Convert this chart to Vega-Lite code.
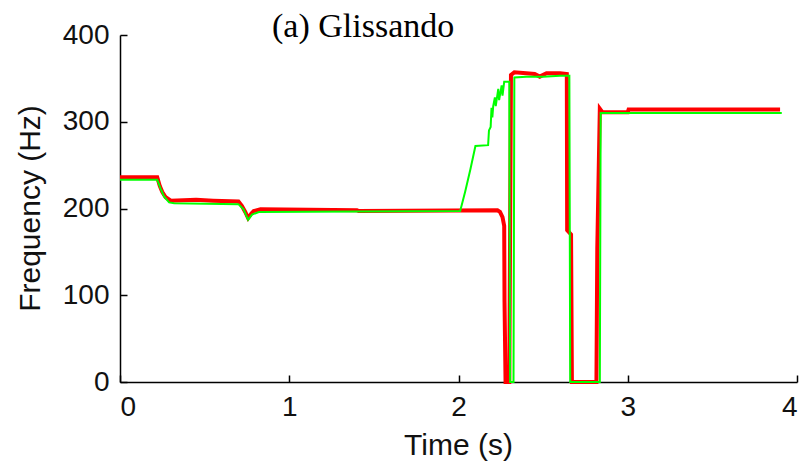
{
  "$schema": "https://vega.github.io/schema/vega-lite/v6.json",
  "width": 677,
  "height": 347,
  "autosize": {"type": "none"},
  "padding": {"left": 120, "top": 35, "right": 5, "bottom": 87},
  "background": "white",
  "title": {
    "text": "(a) Glissando",
    "font": "Liberation Serif",
    "fontSize": 34,
    "fontWeight": "normal",
    "color": "#000000",
    "anchor": "start",
    "frame": "group",
    "dx": 152,
    "dy": 21,
    "offset": -2
  },
  "datasets": {
    "red": [
      {"t": 0, "f": 236}, {"t": 0.22, "f": 236}, {"t": 0.235, "f": 226}, {"t": 0.25, "f": 219}, {"t": 0.27, "f": 213},
      {"t": 0.3, "f": 209}, {"t": 0.45, "f": 210}, {"t": 0.55, "f": 209}, {"t": 0.7, "f": 208}, {"t": 0.72, "f": 203},
      {"t": 0.74, "f": 196}, {"t": 0.757, "f": 189}, {"t": 0.775, "f": 194}, {"t": 0.79, "f": 197}, {"t": 0.83, "f": 199},
      {"t": 1.4, "f": 198}, {"t": 1.41, "f": 197}, {"t": 2.23, "f": 198}, {"t": 2.245, "f": 196}, {"t": 2.26, "f": 190},
      {"t": 2.27, "f": 180}, {"t": 2.272, "f": 92}, {"t": 2.278, "f": 0}, {"t": 2.3, "f": 0}, {"t": 2.31, "f": 354},
      {"t": 2.33, "f": 357}, {"t": 2.4, "f": 356}, {"t": 2.45, "f": 355}, {"t": 2.48, "f": 352}, {"t": 2.52, "f": 356},
      {"t": 2.6, "f": 356}, {"t": 2.64, "f": 355}, {"t": 2.642, "f": 175}, {"t": 2.665, "f": 170}, {"t": 2.67, "f": 0},
      {"t": 2.815, "f": 0}, {"t": 2.82, "f": 154}, {"t": 2.835, "f": 315}, {"t": 2.85, "f": 311}, {"t": 3.0, "f": 311},
      {"t": 3.005, "f": 314}, {"t": 3.9, "f": 314}
    ],
    "green": [
      {"t": 0, "f": 233}, {"t": 0.22, "f": 233}, {"t": 0.24, "f": 223}, {"t": 0.26, "f": 214}, {"t": 0.29, "f": 207},
      {"t": 0.32, "f": 206}, {"t": 0.7, "f": 205}, {"t": 0.73, "f": 199}, {"t": 0.757, "f": 187}, {"t": 0.78, "f": 193},
      {"t": 0.82, "f": 196}, {"t": 2.01, "f": 197}, {"t": 2.04, "f": 220}, {"t": 2.07, "f": 245}, {"t": 2.1, "f": 272},
      {"t": 2.175, "f": 273}, {"t": 2.18, "f": 290}, {"t": 2.19, "f": 294}, {"t": 2.195, "f": 316}, {"t": 2.2, "f": 305},
      {"t": 2.205, "f": 318}, {"t": 2.215, "f": 328}, {"t": 2.22, "f": 318}, {"t": 2.235, "f": 338}, {"t": 2.24, "f": 325},
      {"t": 2.255, "f": 342}, {"t": 2.26, "f": 330}, {"t": 2.27, "f": 346}, {"t": 2.3, "f": 346}, {"t": 2.305, "f": 0},
      {"t": 2.325, "f": 0}, {"t": 2.33, "f": 351}, {"t": 2.4, "f": 352}, {"t": 2.5, "f": 352}, {"t": 2.6, "f": 353},
      {"t": 2.655, "f": 353}, {"t": 2.66, "f": 0}, {"t": 2.835, "f": 0}, {"t": 2.84, "f": 310}, {"t": 3.91, "f": 310}
    ]
  },
  "encoding": {
    "x": {
      "field": "t", "type": "quantitative",
      "scale": {"domain": [0, 4], "nice": false, "zero": false},
      "axis": {"title": "Time (s)", "values": [0, 1, 2, 3, 4], "format": "d", "titleX": 338, "titleY": 72, "titleBaseline": "alphabetic"}
    },
    "y": {
      "field": "f", "type": "quantitative",
      "scale": {"domain": [0, 400], "nice": false},
      "axis": {"title": "Frequency (Hz)", "values": [0, 100, 200, 300, 400], "format": "d", "titleX": -90, "titleY": 173, "titleBaseline": "middle", "titleAngle": 270}
    }
  },
  "layer": [
    {"data": {"name": "red"}, "mark": {"type": "line", "color": "#ff0000", "strokeWidth": 4, "strokeJoin": "miter", "clip": false}},
    {"data": {"name": "green"}, "mark": {"type": "line", "color": "#00ff00", "strokeWidth": 2, "strokeJoin": "miter", "clip": false}}
  ],
  "config": {
    "view": {"stroke": null},
    "axis": {
      "grid": false,
      "domainColor": "#000000",
      "domainWidth": 1.5,
      "tickColor": "#000000",
      "tickWidth": 1.5,
      "tickSize": -7,
      "labelFont": "Liberation Sans",
      "labelFontSize": 28,
      "labelColor": "#111111",
      "titleFont": "Liberation Sans",
      "titleFontSize": 30,
      "titleFontWeight": "normal",
      "titleColor": "#111111",
      "labelPadding": 18
    },
    "axisY": {"labelPadding": 18}
  }
}
